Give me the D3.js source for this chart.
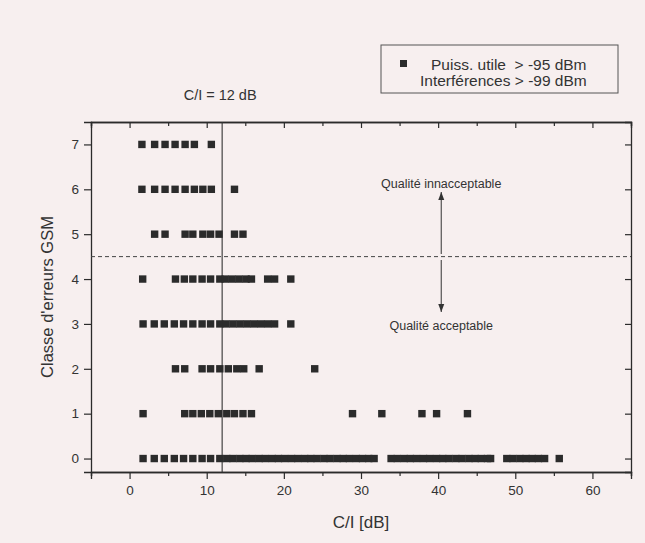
<!DOCTYPE html>
<html><head><meta charset="utf-8">
<script src="https://cdn.jsdelivr.net/npm/d3@7"></script>
<style>
html,body{margin:0;padding:0;background:#f7efef;}
svg{display:block;font-family:"Liberation Sans",Arial,sans-serif;}
</style></head>
<body><svg id="c" width="645" height="543"></svg>
<script>
// C/I [dB] values for each GSM error class
const class0 = [1.75,3.2,4.5,5.8,7.0,8.2,9.4,10.5,11.7,12.6,13.4,14.3,15.1,15.9,16.8,17.6,18.5,19.3,20.1,21.0,21.8,22.7,23.5,24.3,25.2,26.0,26.9,27.7,28.5,29.4,30.2,31.0,31.7,33.9,34.7,35.6,36.4,37.2,38.1,38.9,39.8,40.6,41.4,42.3,43.1,44.0,44.8,45.6,46.4,46.8,48.9,49.7,50.6,51.4,52.2,53.0,53.8,55.7];
const class1 = [1.75,7.15,8.2,9.3,10.4,11.5,12.6,13.6,14.7,15.8,28.9,32.7,37.9,39.8,43.8];
const class2 = [5.95,7.15,9.4,10.5,11.7,12.8,13.9,14.8,16.8,24.0];
const class3 = [1.75,3.2,4.5,5.8,7.0,8.2,9.4,10.5,11.7,12.5,13.4,14.3,15.2,16.1,17.0,17.9,18.8,20.9];
const class4 = [1.7,5.95,7.1,8.2,9.4,10.5,11.7,12.4,13.3,14.2,15.1,15.8,17.9,18.8,20.9];
const class5 = [3.25,4.6,7.2,8.2,9.5,10.5,11.6,13.6,14.7];
const class6 = [1.6,3.25,4.6,5.9,7.2,8.4,9.5,10.6,13.6];
const class7 = [1.6,3.25,4.6,5.9,7.2,8.4,10.6];
const classes = [class0,class1,class2,class3,class4,class5,class6,class7];

const xTicks = [0,10,20,30,40,50,60];
const xMinor = [-5,5,15,25,35,45,55,65];
const yTicks = [0,1,2,3,4,5,6,7];
const threshold = 4.5;       // dashed separation
const ciLimit = 12;          // C/I = 12 dB
const legendLines = ["Puiss. utile  > -95 dBm","Interférences > -99 dBm"];

const svg = d3.select("#c");
const x = d3.scaleLinear().domain([-5,65]).range([91,631]);
const y = d3.scaleLinear().domain([-0.3,7.5]).range([472,122]);
const ink = "#2b2b2b";

svg.append("rect").attr("width",645).attr("height",543).attr("fill","#f7efef");

// axes
const gB = svg.append("g").attr("transform",`translate(0,${y(-0.3)})`)
  .call(d3.axisBottom(x).tickValues(xTicks).tickSize(7).tickPadding(6).tickFormat(d3.format("d")));
const gBm = svg.append("g").attr("transform",`translate(0,${y(-0.3)})`)
  .call(d3.axisBottom(x).tickValues(xMinor).tickSize(4).tickFormat(""));
const gT = svg.append("g").attr("transform",`translate(0,${y(7.5)})`)
  .call(d3.axisTop(x).tickValues(xTicks).tickSize(-6).tickFormat(""));
const gTm = svg.append("g").attr("transform",`translate(0,${y(7.5)})`)
  .call(d3.axisTop(x).tickValues(xMinor).tickSize(-4).tickFormat(""));
const gL = svg.append("g").attr("transform",`translate(${x(-5)},0)`)
  .call(d3.axisLeft(y).tickValues(yTicks).tickSize(7).tickPadding(5).tickFormat(d3.format("d")));
const gR = svg.append("g").attr("transform",`translate(${x(65)},0)`)
  .call(d3.axisRight(y).tickValues(yTicks).tickSize(-6).tickFormat(""));
[gB,gBm,gT,gTm,gL,gR].forEach(g=>{
  g.selectAll("path").attr("stroke",ink).attr("stroke-width",1.3);
  g.selectAll("line").attr("stroke",ink).attr("stroke-width",1.2);
  g.selectAll("text").attr("fill","#333").attr("font-size",13.5).attr("font-family","Liberation Sans, Arial, sans-serif");
});

// reference lines
svg.append("line").attr("x1",x(-5)).attr("x2",x(65)).attr("y1",y(threshold)).attr("y2",y(threshold))
  .attr("stroke","#444").attr("stroke-width",1).attr("stroke-dasharray","4,3");
svg.append("line").attr("x1",x(ciLimit)).attr("x2",x(ciLimit)).attr("y1",y(7.5)).attr("y2",y(-0.3))
  .attr("stroke","#333").attr("stroke-width",1.1);

// points
const pts = [];
classes.forEach((arr,k)=>arr.forEach(v=>pts.push({x:v,y:k})));
const s = 7.4;
svg.append("g").selectAll("rect").data(pts).join("rect")
  .attr("x",d=>x(d.x)-s/2).attr("y",d=>y(d.y)-s/2).attr("width",s).attr("height",s)
  .attr("fill",ink);

// labels
svg.append("text").attr("x",x(ciLimit)-2).attr("y",100).attr("text-anchor","middle")
  .attr("font-size",14.5).attr("fill","#333").text("C/I = 12 dB");
svg.append("text").attr("x",x(40.4)).attr("y",188).attr("text-anchor","middle")
  .attr("font-size",12.5).attr("fill","#333").text("Qualité innacceptable");
svg.append("text").attr("x",x(40.4)).attr("y",330).attr("text-anchor","middle")
  .attr("font-size",12.5).attr("fill","#333").text("Qualité acceptable");

// arrows
const ax = x(40.4);
const arrow = (y1,y2)=>{
  svg.append("line").attr("x1",ax).attr("x2",ax).attr("y1",y1).attr("y2",y2).attr("stroke","#333").attr("stroke-width",1);
  const dir = y2<y1?1:-1;
  svg.append("path").attr("d",`M${ax},${y2} L${ax-3},${y2+dir*8} L${ax+3},${y2+dir*8} Z`).attr("fill","#333");
};
arrow(254,192);
arrow(260,312);

// axis titles
svg.append("text").attr("x",x(30)).attr("y",528).attr("text-anchor","middle")
  .attr("font-size",17).attr("fill","#333").text("C/I [dB]");
svg.append("text").attr("transform",`translate(53,${y(3.6)}) rotate(-90)`).attr("text-anchor","middle")
  .attr("font-size",16.5).attr("fill","#333").text("Classe d'erreurs GSM");

// legend
svg.append("rect").attr("x",381).attr("y",45).attr("width",237).attr("height",48)
  .attr("fill","none").attr("stroke","#555").attr("stroke-width",1);
svg.append("rect").attr("x",400).attr("y",60).attr("width",7).attr("height",7).attr("fill",ink);
svg.append("text").attr("x",431).attr("y",69.5).attr("font-size",15.5).attr("fill","#333").style("white-space","pre").text(legendLines[0]);
svg.append("text").attr("x",420).attr("y",86).attr("font-size",15.5).attr("fill","#333").text(legendLines[1]);
</script></body></html>
